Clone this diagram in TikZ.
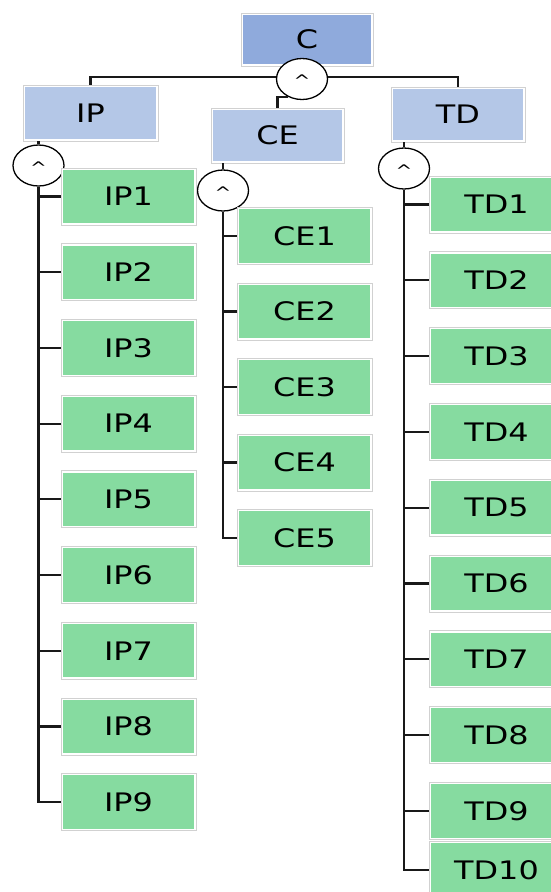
\documentclass[tikz,border=0pt]{standalone}
\usepackage{fontspec}
\newfontfamily\boxfont[FakeStretch=1.25]{DejaVu Sans}
\usetikzlibrary{positioning, calc, shapes.geometric}

\definecolor{topblue}{HTML}{8FAADC}
\definecolor{midblue}{HTML}{B4C7E7}
\definecolor{leafgreen}{HTML}{86DBA0}

\begin{document}
\begin{tikzpicture}[
  x=1pt, y=-1pt,
  % ---- styles ----
  box/.style = {
    rectangle, draw=black!18, line width=0.8pt, fill=white,
    minimum width=135pt, minimum height=56pt, inner sep=0pt,
    font=\boxfont\fontsize{25.5}{28}\selectfont,
    path picture={
      \fill[#1] ([shift={(1.8pt,1.8pt)}]path picture bounding box.south west)
        rectangle ([shift={(-1.8pt,-1.8pt)}]path picture bounding box.north east);
    }
  },
  goal/.style   = {box=topblue, minimum width=132pt, minimum height=53pt},
  group/.style  = {box=midblue},
  leaf/.style   = {box=leafgreen, minimum height=57pt},
  andgate/.style = {
    ellipse, draw=black, line width=1.3pt, fill=white,
    minimum width=51pt, minimum height=41pt, inner sep=0pt,
    text height=1.5em, text depth=0pt,
    font=\boxfont\fontsize{16}{16}\selectfont
  },
  link/.style = {line width=2.2pt, black!90}
]
\useasboundingbox (0,0) rectangle (551,892);

% ============ TOP ============

\node[goal] (C) at (307, 39.5) {C};
\node[andgate] (andC) at (302, 79) {\textasciicircum};

% ============ GROUPS ============

\node[group] (IP) at (90.5, 113) {IP};
\node[group, minimum width=133pt, minimum height=55pt] (CE) at (277.5, 135.5) {CE};
\node[group, minimum width=134pt, minimum height=55pt] (TD) at (458, 114.5) {TD};

\node[andgate] (andIP) at (38.5, 165.5) {\textasciicircum};
\node[andgate] (andCE) at (223, 190.5) {\textasciicircum};
\node[andgate] (andTD) at (404, 168.5) {\textasciicircum};

% ============ LEAVES ============

\foreach \i in {1,...,9}
  \node[leaf] (IP\i) at (128.5, {196.5 + 75.7*(\i-1)}) {IP\i};

\foreach \i in {1,...,5}
  \node[leaf] (CE\i) at (304.5, {236 + 75.5*(\i-1)}) {CE\i};

\foreach \i in {1,...,9}
  \node[leaf] (TD\i) at (496.5, {204.5 + 75.8*(\i-1)}) {TD\i};
\node[leaf] (TD10) at (496.5, 870) {TD10};

% ============ LINKS ============

% C -- groups
\draw[link] (IP.north) |- ([yshift=2pt]andC.west);
\draw[link] (TD.north) |- ([yshift=2pt]andC.east);
\draw[link] (andC.233) -| (CE.north);

% IP
\draw[link] (IP.south -| andIP.north) -- (andIP.north);
\draw[link] (andIP.south) |- (IP9.west);
\foreach \i in {1,...,8}
  \draw[link] (andIP.south |- IP\i.west) -- (IP\i.west);

% CE
\draw[link] (CE.south -| andCE.north) -- (andCE.north);
\draw[link] (andCE.south) |- (CE5.west);
\foreach \i in {1,...,4}
  \draw[link] (andCE.south |- CE\i.west) -- (CE\i.west);

% TD
\draw[link] (TD.south -| andTD.north) -- (andTD.north);
\draw[link] (andTD.south) |- (TD10.west);
\foreach \i in {1,...,9}
  \draw[link] (andTD.south |- TD\i.west) -- (TD\i.west);

\end{tikzpicture}
\end{document}
